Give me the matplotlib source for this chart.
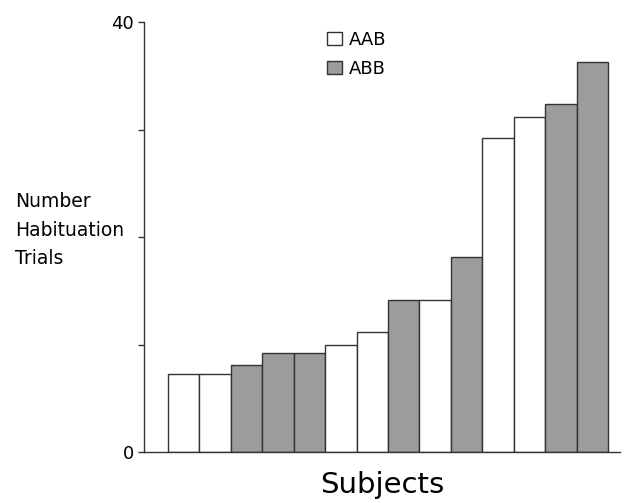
import matplotlib
matplotlib.use("Agg")
import matplotlib.pyplot as plt
from matplotlib.patches import Patch

conditions = ["AAB", "AAB", "ABB", "ABB", "ABB", "AAB", "AAB",
              "ABB", "AAB", "ABB", "AAB", "AAB", "ABB", "ABB"]
trials = [7.3, 7.3, 8.1, 9.25, 9.25, 10.0, 11.2,
          14.15, 14.15, 18.15, 29.2, 31.2, 32.35, 36.25]
yticks = [0, 10, 20, 30, 40]
ytick_labels = ["0", "", "", "", "40"]

colors = {"AAB": "white", "ABB": "#9c9c9c"}
edge = "#333333"

fig = plt.figure(figsize=(6.24, 5.03), dpi=100)
ax = fig.add_axes([144/624, 1-452/503, (620-144)/624, (452-22)/503])

x = list(range(len(trials)))
ax.bar(x, trials, width=1.0, color=[colors[c] for c in conditions],
       edgecolor=edge, linewidth=1.0)

ax.set_xlim(-1.264, 13.88)
ax.set_ylim(0, 40)
ax.set_yticks(yticks)
ax.set_yticklabels(ytick_labels, fontsize=13)
ax.set_xticks([])
ax.tick_params(axis="y", direction="out", length=4, width=1, color=edge, pad=3)
for s in ["top", "right"]:
    ax.spines[s].set_visible(False)
for s in ["left", "bottom"]:
    ax.spines[s].set_color(edge)
    ax.spines[s].set_linewidth(1.0)

ax.set_xlabel("Subjects", fontsize=21, labelpad=14)

fig.text(15/624, 1-230/503, "Number\nHabituation\nTrials", fontsize=13.5,
         ha="left", va="center", linespacing=1.62)

handles = [Patch(facecolor=colors[k], edgecolor=edge, linewidth=1.0) for k in ["AAB", "ABB"]]
fig.legend(handles, ["AAB", "ABB"], loc="upper left",
           bbox_to_anchor=(327/624, 1-31/503), frameon=False, fontsize=13,
           handlelength=0.83, handleheight=0.72, handletextpad=0.4,
           labelspacing=0.62, borderpad=0, borderaxespad=0)

fig.savefig("out.png", dpi=100)
